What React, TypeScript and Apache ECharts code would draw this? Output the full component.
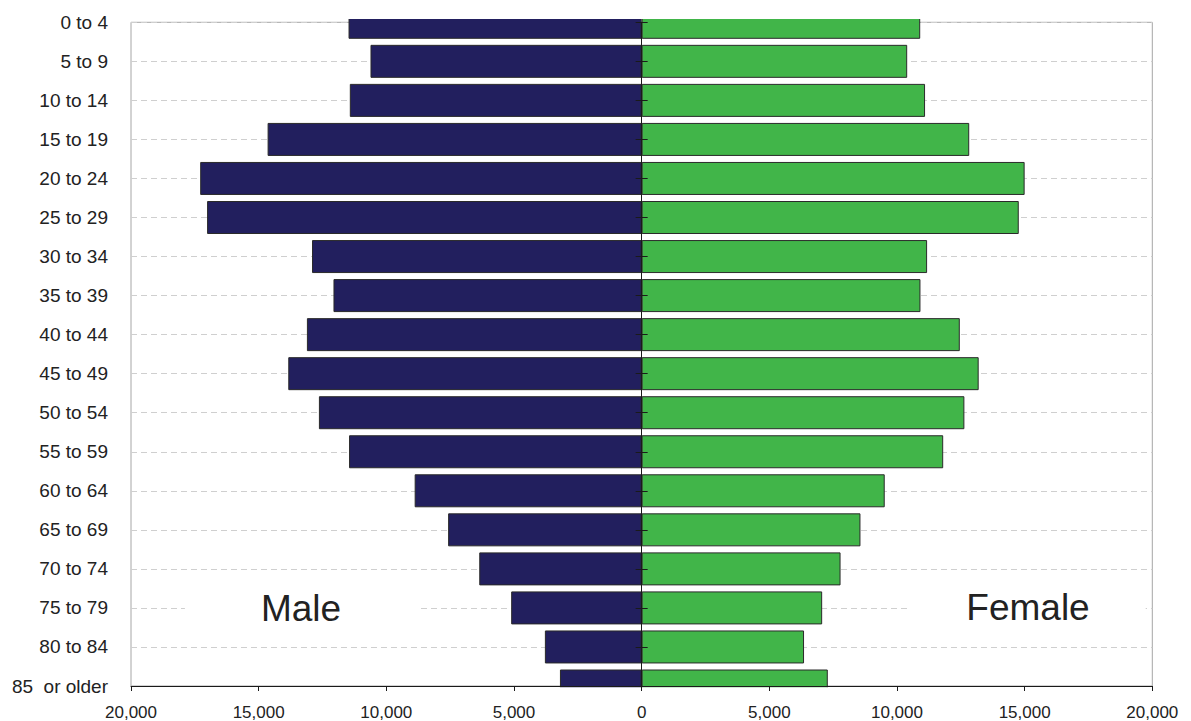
import React, { useEffect, useRef } from "react";
import * as echarts from "echarts";

const ageGroups = [
  "0 to 4", "5 to 9", "10 to 14", "15 to 19", "20 to 24", "25 to 29",
  "30 to 34", "35 to 39", "40 to 44", "45 to 49", "50 to 54", "55 to 59",
  "60 to 64", "65 to 69", "70 to 74", "75 to 79", "80 to 84", "85  or older",
];

const maleValues = [
  11480, 10620, 11430, 14650, 17290, 17020, 12910, 12070, 13110, 13840,
  12640, 11460, 8890, 7580, 6360, 5110, 3790, 3200,
];

const femaleValues = [
  10910, 10400, 11100, 12830, 15000, 14770, 11180, 10920, 12460, 13200,
  12640, 11810, 9520, 8570, 7790, 7070, 6360, 7290,
];

const xTicks = { min: -20000, max: 20000, interval: 5000 };

const FONT = '"Liberation Sans", Arial, Helvetica, sans-serif';

const W = 1191;
const H = 721;
const GRID_LEFT = 131;
const GRID_RIGHT = 38.7;
const GRID_TOP = 22.3;
const GRID_BOTTOM = 34.3;

export default function App() {
  const ref = useRef<HTMLDivElement>(null);

  useEffect(() => {
    if (!ref.current) return;
    const chart = echarts.init(ref.current, undefined, { renderer: "svg" });
    const plotW = W - GRID_LEFT - GRID_RIGHT;
    const axisY = H - GRID_BOTTOM;
    const option: any = {
      animation: false,
      backgroundColor: "#ffffff",
      grid: {
        left: GRID_LEFT,
        right: GRID_RIGHT,
        top: GRID_TOP,
        bottom: GRID_BOTTOM,
        show: true,
        borderColor: "#a6a6a6",
        borderWidth: 1,
        backgroundColor: "transparent",
      },
      xAxis: {
        type: "value",
        min: xTicks.min,
        max: xTicks.max,
        interval: xTicks.interval,
        z: 5,
        axisLine: { show: true, onZero: false, lineStyle: { color: "#1a1a1a", width: 1 } },
        axisTick: { show: true, length: 5, lineStyle: { color: "#1a1a1a" } },
        splitLine: { show: false },
        axisLabel: {
          margin: 18,
          fontSize: 17,
          fontFamily: FONT,
          color: "#222",
          formatter: (v: number) => Math.abs(v).toLocaleString("en-US"),
        },
      },
      yAxis: [
        {
          type: "category",
          data: ageGroups,
          inverse: true,
          boundaryGap: false,
          position: "left",
          axisLine: { show: false, onZero: false },
          axisTick: { show: false },
          splitLine: {
            show: true,
            lineStyle: { color: "#cfcfcf", type: [6, 4], width: 1 },
          },
          axisLabel: {
            margin: 23,
            fontSize: 19,
            fontFamily: FONT,
            color: "#222",
            interval: 0,
          },
        },
        {
          type: "category",
          data: ageGroups,
          inverse: true,
          boundaryGap: false,
          position: "left",
          z: 5,
          axisLine: {
            show: true,
            onZero: true,
            onZeroAxisIndex: 0,
            lineStyle: { color: "#1a1a1a", width: 1 },
          },
          axisTick: { show: true, length: 6, interval: 0, lineStyle: { color: "#1a1a1a" } },
          axisLabel: { show: false },
          splitLine: { show: false },
        },
        {
          type: "category",
          data: ageGroups,
          inverse: true,
          boundaryGap: false,
          position: "left",
          z: 5,
          axisLine: {
            show: false,
            onZero: true,
            onZeroAxisIndex: 0,
          },
          axisTick: { show: true, inside: true, length: 6, interval: 0, lineStyle: { color: "#1a1a1a" } },
          axisLabel: { show: false },
          splitLine: { show: false },
        },
      ],
      series: [
        {
          name: "Male",
          type: "bar",
          stack: "pop",
          yAxisIndex: 0,
          barWidth: 33,
          data: maleValues.map((v) => -v),
          itemStyle: { color: "#221f5e", borderColor: "#2a2a2a", borderWidth: 1 },
          clip: true,
        },
        {
          name: "Female",
          type: "bar",
          stack: "pop",
          yAxisIndex: 0,
          barWidth: 33,
          data: femaleValues,
          itemStyle: { color: "#41b549", borderColor: "#2a2a2a", borderWidth: 1 },
          clip: true,
        },
      ],
      graphic: [
        {
          type: "rect",
          z: 3,
          silent: true,
          shape: { x: GRID_LEFT - 1, y: 0, width: plotW + 2, height: GRID_TOP - 3.3 },
          style: { fill: "#ffffff" },
        },
        {
          type: "rect",
          z: 3,
          silent: true,
          shape: { x: GRID_LEFT + 1, y: axisY + 0.6, width: plotW - 2, height: 18 },
          style: { fill: "#ffffff" },
        },
        {
          type: "text",
          x: 301,
          y: 608,
          z: 10,
          style: {
            text: "Male",
            fontSize: 37,
            fontFamily: FONT,
            fill: "#222",
            align: "center",
            verticalAlign: "middle",
            backgroundColor: "#ffffff",
            padding: [10, 76],
          },
        },
        {
          type: "text",
          x: 1028,
          y: 607,
          z: 10,
          style: {
            text: "Female",
            fontSize: 37,
            fontFamily: FONT,
            fill: "#222",
            align: "center",
            verticalAlign: "middle",
            backgroundColor: "#ffffff",
            padding: [10, 56],
          },
        },
      ],
    };
    chart.setOption(option);
    return () => chart.dispose();
  }, []);

  return (
    <div
      ref={ref}
      style={{ position: "fixed", left: 0, top: 0, width: W, height: H }}
    />
  );
}
